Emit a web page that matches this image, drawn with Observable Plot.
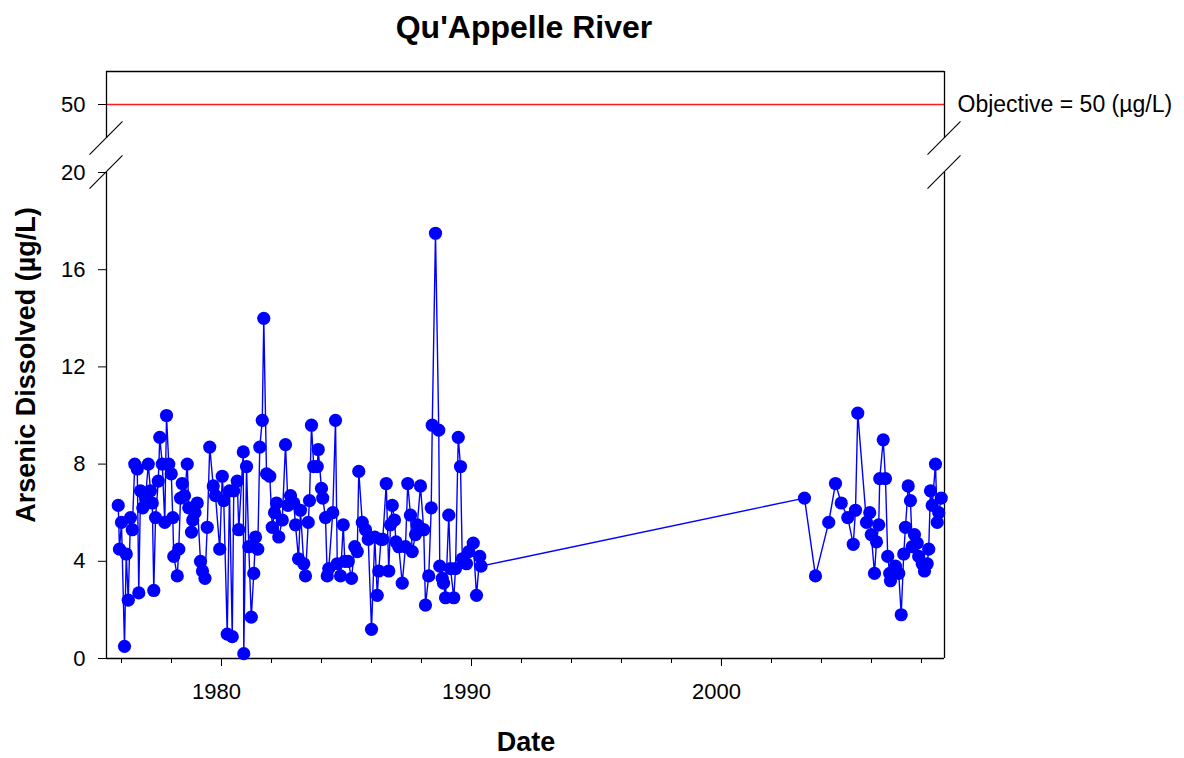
<!DOCTYPE html>
<html>
<head>
<meta charset="utf-8">
<script src="https://cdn.jsdelivr.net/npm/d3@7"></script>
<script src="https://cdn.jsdelivr.net/npm/@observablehq/plot@0.6"></script>
<style>
  html, body { margin: 0; padding: 0; background: #fff; }
  #chart { position: relative; width: 1184px; height: 758px; }
</style>
</head>
<body>
<div id="chart"></div>
<script>
// ---- data (decimal years and dissolved arsenic, µg/L) ----
const years1 = [
  1975.87, 1975.92, 1976.00, 1976.12, 1976.19, 1976.27, 1976.36, 1976.43, 1976.53, 1976.63,
  1976.69, 1976.76, 1976.85, 1976.96, 1977.07, 1977.16, 1977.23, 1977.29, 1977.36, 1977.47,
  1977.53, 1977.63, 1977.73, 1977.80, 1977.89, 1977.99, 1978.05, 1978.09, 1978.23, 1978.29,
  1978.36, 1978.43, 1978.52, 1978.63, 1978.69, 1978.80, 1978.85, 1978.94, 1979.03, 1979.16,
  1979.24, 1979.34, 1979.43, 1979.53, 1979.67, 1979.76, 1979.93, 1980.03, 1980.09, 1980.23,
  1980.32, 1980.43, 1980.49, 1980.63, 1980.69, 1980.87, 1980.89, 1981.00, 1981.09, 1981.19,
  1981.29, 1981.36, 1981.45, 1981.53, 1981.63, 1981.69, 1981.80, 1981.93, 1982.03, 1982.12,
  1982.20, 1982.29, 1982.43, 1982.56, 1982.66, 1982.76, 1982.89, 1982.96, 1983.08, 1983.16,
  1983.29, 1983.36, 1983.47, 1983.52, 1983.60, 1983.69, 1983.83, 1983.87, 1984.00, 1984.05,
  1984.16, 1984.23, 1984.29, 1984.45, 1984.56, 1984.63, 1984.76, 1984.87, 1984.93, 1985.07,
  1985.20, 1985.33, 1985.43, 1985.49, 1985.63, 1985.76, 1985.87, 1986.00, 1986.13, 1986.23,
  1986.29, 1986.38, 1986.45, 1986.59, 1986.69, 1986.76, 1986.83, 1986.92, 1986.98, 1987.09,
  1987.23, 1987.36, 1987.45, 1987.56, 1987.63, 1987.76, 1987.83, 1987.96, 1988.09, 1988.16,
  1988.29, 1988.39, 1988.43, 1988.56, 1988.69, 1988.73, 1988.83, 1988.88, 1988.96, 1989.09,
  1989.16, 1989.29, 1989.36, 1989.47, 1989.56, 1989.63, 1989.80, 1989.89, 1990.07, 1990.20,
  1990.33, 1990.38
];
const arsenic1 = [
  6.3, 4.5, 5.6, 0.5, 4.3, 2.4, 5.8, 5.3, 8.0, 7.8,
  2.7, 6.9, 6.2, 6.6, 8.0, 6.9, 6.4, 2.8, 5.8, 7.3,
  9.1, 8.0, 5.6, 10.0, 8.0, 7.6, 5.8, 4.2, 3.4, 4.5,
  6.6, 7.2, 6.7, 8.0, 6.2, 5.2, 5.7, 6.0, 6.4, 4.0,
  3.6, 3.3, 5.4, 8.7, 7.1, 6.7, 4.5, 7.5, 6.5, 1.0,
  6.9, 0.9, 6.9, 7.3, 5.3, 8.5, 0.2, 7.9, 4.6, 1.7,
  3.5, 5.0, 4.5, 8.7, 9.8, 14.0, 7.6, 7.5, 5.4, 6.0,
  6.4, 5.0, 5.7, 8.8, 6.3, 6.7, 6.4, 5.5, 4.1, 6.1,
  3.9, 3.4, 5.6, 6.5, 9.6, 7.9, 7.9, 8.6, 7.0, 6.6,
  5.8, 3.4, 3.7, 6.0, 9.8, 3.9, 3.4, 5.5, 4.0, 4.0,
  3.3, 4.6, 4.4, 7.7, 5.6, 5.3, 4.9, 1.2, 5.0, 2.6,
  3.6, 4.9, 4.9, 7.2, 3.6, 5.5, 6.3, 5.7, 4.8, 4.6,
  3.1, 4.6, 7.2, 5.9, 4.4, 5.1, 5.5, 7.1, 5.3, 2.2,
  3.4, 6.2, 9.6, 17.5, 9.4, 3.8, 3.3, 3.1, 2.5, 5.9,
  3.7, 2.5, 3.7, 9.1, 7.9, 4.1, 3.9, 4.4, 4.75, 2.6,
  4.2, 3.8
];
const years2 = [
  2003.32, 2003.76, 2004.29, 2004.56, 2004.79, 2005.05, 2005.27, 2005.36, 2005.45, 2005.80,
  2005.93, 2005.99, 2006.12, 2006.20, 2006.29, 2006.33, 2006.47, 2006.56, 2006.65, 2006.73,
  2006.76, 2006.96, 2007.09, 2007.19, 2007.29, 2007.36, 2007.47, 2007.56, 2007.63, 2007.72,
  2007.83, 2007.89, 2008.03, 2008.12, 2008.23, 2008.29, 2008.36, 2008.43, 2008.56, 2008.63,
  2008.69, 2008.79
];
const arsenic2 = [
  6.6, 3.4, 5.6, 7.2, 6.4, 5.8, 4.7, 6.1, 10.1, 5.6,
  6.0, 5.1, 3.5, 4.8, 5.5, 7.4, 9.0, 7.4, 4.2, 3.5,
  3.2, 3.8, 3.5, 1.8, 4.3, 5.4, 7.1, 6.5, 4.6, 5.1,
  4.75, 4.2, 3.9, 3.6, 3.9, 4.5, 6.9, 6.3, 8.0, 5.6,
  6.0, 6.6
];
const objective = [50];
const yTicks = [0, 4, 8, 12, 16, 20, 50];
const xMajorTickYears = [1980, 1990, 2000];
const xMinorTickYears = d3.range(1976, 2009, 2);
const xDomainYears = [1975.4, 2008.92];
const yLowerPanel = [0, 20];
const yUpperPanel = [48.6, 51.36];

// ---- helpers ----
function decToDate(t) {
  const y = Math.floor(t);
  const s = Date.UTC(y, 0, 1), e = Date.UTC(y + 1, 0, 1);
  return new Date(s + (t - y) * (e - s));
}
const data = years1.concat(years2).map((t, i) => ({
  date: decToDate(t),
  value: arsenic1.concat(arsenic2)[i]
}));
const xMin = decToDate(xDomainYears[0]), xMax = decToDate(xDomainYears[1]);
const fontFamily = "'Liberation Sans', Arial, Helvetica, sans-serif";
const blue = "#0000ff";

const plot = Plot.plot({
  width: 1184,
  height: 758,
  marginLeft: 106,
  marginRight: 240,
  marginTop: 71,
  marginBottom: 100,
  style: { fontFamily, fontSize: "22px", color: "#000", background: "transparent", overflow: "visible" },
  x: { type: "utc", domain: [xMin, xMax] },
  y: { type: "linear", domain: [yLowerPanel[0], yLowerPanel[1], yUpperPanel[0], yUpperPanel[1]], range: [658, 172, 138, 71] },
  marks: [
    // objective line
    Plot.ruleY(objective, { y: d => d, stroke: "#ff1a1a", strokeWidth: 1.6 }),
    // broken frame
    Plot.ruleY([yLowerPanel[0]], { stroke: "#000", strokeWidth: 1.3 }),
    Plot.ruleY([yUpperPanel[1]], { stroke: "#000", strokeWidth: 1.3 }),
    Plot.ruleX([xMin, xMax], { y1: yLowerPanel[0], y2: yLowerPanel[1], stroke: "#000", strokeWidth: 1.3 }),
    Plot.ruleX([xMin, xMax], { y1: yUpperPanel[0], y2: yUpperPanel[1], stroke: "#000", strokeWidth: 1.3 }),
    // axes
    Plot.axisY({ ticks: yTicks, tickSize: 8, tickPadding: 13, label: null, fontSize: 22 }),
    Plot.axisX({ ticks: xMinorTickYears.map(y => decToDate(y)), tickSize: 5, tickFormat: () => "", label: null }),
    Plot.axisX({ ticks: xMajorTickYears.map(y => decToDate(y)), tickSize: 8, tickFormat: () => "", label: null }),
    Plot.axisX({ ticks: xMajorTickYears.map(y => decToDate(y)), tickSize: 0, tickPadding: 25, dx: -5, tickFormat: d3.utcFormat("%Y"), label: null, fontSize: 22 }),
    // data
    Plot.line(data, { x: "date", y: "value", stroke: blue, strokeWidth: 1.4 }),
    Plot.dot(data, { x: "date", y: "value", r: 6.6, fill: blue, stroke: "none" }),
    // objective label
    Plot.text(objective, { y: d => d, frameAnchor: "right", textAnchor: "start", dx: 13, fontSize: 23, fill: "#000", text: d => `Objective = ${d} (µg/L)` })
  ]
});

// axis break marks, positioned with the plot's own scales
const sx = plot.scale("x"), sy = plot.scale("y");
const svg = d3.select(plot);
const breaks = [];
for (const xe of [xMin, xMax]) for (const yv of [yLowerPanel[1], yUpperPanel[0]]) breaks.push([sx.apply(xe), sy.apply(yv)]);
svg.append("g").attr("stroke", "#000").attr("stroke-width", 1.1)
  .selectAll("line").data(breaks).join("line")
  .attr("x1", d => d[0] - 16.5).attr("y1", d => d[1] + 16.7)
  .attr("x2", d => d[0] + 16.5).attr("y2", d => d[1] - 16.7);

// titles
const xc = (sx.apply(xMin) + sx.apply(xMax)) / 2;
svg.append("text").attr("x", xc - 1).attr("y", 37.5).attr("text-anchor", "middle")
  .attr("font-family", fontFamily).attr("font-weight", "bold").attr("font-size", 32).attr("fill", "#000")
  .text("Qu'Appelle River");
svg.append("text").attr("x", xc + 1).attr("y", 750.5).attr("text-anchor", "middle")
  .attr("font-family", fontFamily).attr("font-weight", "bold").attr("font-size", 27).attr("fill", "#000")
  .text("Date");
const yc = (sy.apply(0) + sy.apply(20)) / 2 - 50;
svg.append("text").attr("transform", `translate(35,${yc}) rotate(-90)`).attr("text-anchor", "middle")
  .attr("font-family", fontFamily).attr("font-weight", "bold").attr("font-size", 27).attr("fill", "#000")
  .text("Arsenic Dissolved (µg/L)");

document.getElementById("chart").appendChild(plot);
</script>
</body>
</html>
